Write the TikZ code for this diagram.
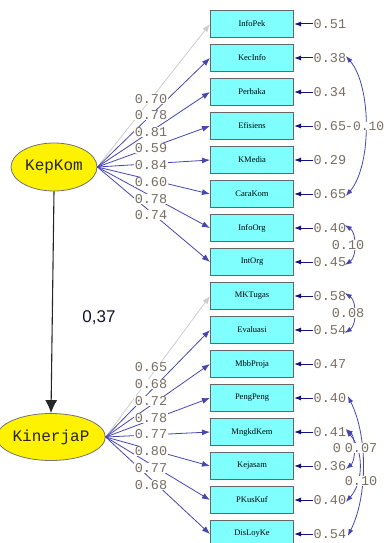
\documentclass[tikz,border=0pt]{standalone}
\usepackage{fontspec}
\setmainfont{Liberation Serif}
\newfontfamily\monofont{Liberation Mono}
\newfontfamily\sansfont{Liberation Sans}
\usetikzlibrary{arrows.meta,shapes.geometric}
\definecolor{boxfill}{RGB}{128,255,255}
\definecolor{pathblue}{RGB}{70,70,175}
\definecolor{numgray}{RGB}{120,110,100}
\definecolor{errblue}{RGB}{20,20,120}
\definecolor{pathgray}{RGB}{205,205,205}
\begin{document}
\begin{tikzpicture}[x=1pt,y=-1pt,
  obs/.style={draw=black!60, fill=boxfill, line width=1.1pt, minimum width=83pt, minimum height=27pt, inner sep=0pt, font=\fontsize{8.5}{9}\selectfont},
  lat/.style={ellipse, draw=black!55, fill=yellow, line width=0.8pt, inner sep=0pt, font=\monofont\fontsize{16}{17}\selectfont, text=black!85},
  val/.style={anchor=west, inner sep=0.5pt, text=numgray, font=\monofont\fontsize{13.5}{14}\selectfont},
  load/.style={fill=white, inner sep=0.5pt, text=numgray, font=\monofont\fontsize{13.5}{14}\selectfont},
  lpath/.style={draw=pathblue, line width=0.8pt, -{Latex[length=8pt,width=6pt]}},
  lpathgray/.style={draw=pathgray, line width=0.8pt, -{Latex[length=8pt,width=6pt]}},
  epath/.style={draw=errblue, line width=1pt, -{Latex[length=7pt,width=5pt]}},
  cov/.style={draw=pathblue, line width=0.8pt, {Latex[length=7pt,width=5pt]}-{Latex[length=7pt,width=5pt]}},
]
\useasboundingbox (0,0) rectangle (386,543);
\node[lat, minimum width=86pt, minimum height=48pt] (K) at (54,167) {KepKom};
\node[lat, minimum width=83pt, minimum height=47pt] (P) at (51,437) {KinerjaP};
% observed, top group
\foreach \t/\v/\yy [count=\i] in {InfoPek/0.51/24, KecInfo/0.38/58, Perbaka/0.34/92, Efisiens/0.65/126, KMedia/0.29/160, CaraKom/0.65/194, InfoOrg/0.40/228, IntOrg/0.45/262}{
  \node[obs] (b\i) at (252,\yy) {\t};
  \node[val] (e\i) at (313,\yy) {\v};
  \draw[epath] (e\i.west) -- (b\i.east);
}
% observed, bottom group
\foreach \t/\v/\yy [count=\i] in {MKTugas/0.58/296, Evaluasi/0.54/330, MbbProja/0.47/364, PengPeng/0.40/398, MngkdKem/0.41/432, Kejasam/0.36/466, PKusKuf/0.40/500, DisLoyKe/0.54/534}{
  \node[obs] (c\i) at (252,\yy) {\t};
  \node[val] (f\i) at (313,\yy) {\v};
  \draw[epath] (f\i.west) -- (c\i.east);
}
% loadings
\draw[lpathgray] (K.east) -- (b1.west);
\foreach \i in {2,...,8}{\draw[lpath] (K.east) -- (b\i.west);}
\draw[lpathgray] (P.east) -- (c1.west);
\foreach \i in {2,...,8}{\draw[lpath] (P.east) -- (c\i.west);}
\foreach \v/\yy in {0.70/99, 0.78/115, 0.81/132, 0.59/148, 0.84/165, 0.60/182, 0.78/199, 0.74/215}{
  \node[load] at (151,\yy) {\v};
}
\foreach \v/\yy in {0.65/367, 0.68/384, 0.72/401, 0.78/418, 0.77/434, 0.80/451, 0.77/468, 0.68/485}{
  \node[load] at (151,\yy) {\v};
}
% structural path
\draw[black!85, line width=1.1pt, -{Latex[length=13pt,width=12pt]}] (K.south) -- (P.north);
\node[font=\sansfont\fontsize{17}{18}\selectfont, text={rgb,255:red,20;green,20;blue,50}] (g) at (99,318) {0,37};
% covariances
\draw[cov] ([xshift=-1pt,yshift=2pt]e2.east) .. controls +(26,30) and +(26,-30) .. ([xshift=-1pt,yshift=-2pt]e6.east);
\node[load, anchor=west, inner sep=0pt, font=\monofont\fontsize{13}{14}\selectfont] (r1) at (345,126) {-0.10};
\draw[cov] ([xshift=-2pt,yshift=3pt]e7.east) .. controls +(12,8) and +(12,-8) .. ([xshift=-2pt,yshift=-3pt]e8.east);
\node[load] (r2) at (348,245) {0.10};
\draw[cov] ([xshift=-2pt,yshift=3pt]f1.east) .. controls +(12,8) and +(12,-8) .. ([xshift=-2pt,yshift=-3pt]f2.east);
\node[load] (r3) at (348,313) {0.08};
\draw[cov] ([xshift=1pt,yshift=2pt]f4.east) .. controls +(20,40) and +(20,-40) .. ([xshift=1pt,yshift=-2pt]f8.east);
\draw[cov] ([xshift=-1pt,yshift=2pt]f5.east) .. controls +(18,20) and +(18,-20) .. ([xshift=-1pt,yshift=-2pt]f7.east);
\draw[cov] ([xshift=-1pt,yshift=3pt]f5.east) .. controls +(10,8) and +(10,-8) .. ([xshift=-1pt,yshift=-3pt]f6.east);
\node[load] (r4) at (337,448) {0};
\node[load] (r5) at (361,448) {0.07};
\node[load] (r6) at (361,481) {0.10};
\end{tikzpicture}
\end{document}
